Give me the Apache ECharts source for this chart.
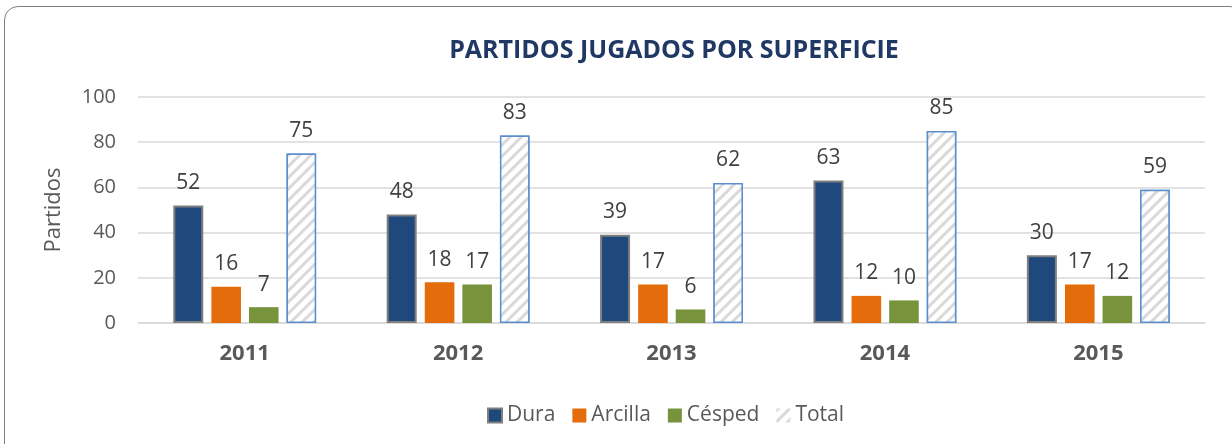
<!DOCTYPE html>
<html>
<head>
<meta charset="utf-8">
<script src="https://cdn.jsdelivr.net/npm/echarts@6/dist/echarts.min.js"></script>
<style>
  html, body { margin: 0; padding: 0; width: 1232px; height: 444px; overflow: hidden; background: #fff; }
  #frame { position: absolute; left: 4px; top: 6px; width: 1240px; height: 460px; box-sizing: border-box;
           border: 1.5px solid #808080; border-radius: 14px; }
  #main { position: absolute; left: 0; top: 0; width: 1232px; height: 444px; }
</style>
</head>
<body>
<div id="frame"></div>
<div id="main"></div>
<script>
var years = ['2011', '2012', '2013', '2014', '2015'];
var dura = [52, 48, 39, 63, 30];
var arcilla = [16, 18, 17, 12, 17];
var cesped = [7, 17, 6, 10, 12];
var total = [75, 83, 62, 85, 59];

var myChart = echarts.init(document.getElementById('main'));
var font = '"Open Sans", sans-serif';

var lbl = {
  show: true,
  position: 'top',
  distance: 12,
  fontSize: 21,
  color: '#404040',
  fontFamily: font
};

var hatch = {
  symbol: 'rect',
  symbolSize: 1,
  color: '#d9d9d9',
  backgroundColor: '#ffffff',
  dashArrayX: [1, 0],
  dashArrayY: [3, 5],
  rotation: -Math.PI / 4
};

myChart.setOption({
  animation: false,
  textStyle: { fontFamily: font },
  title: {
    text: 'PARTIDOS JUGADOS POR SUPERFICIE',
    left: 669,
    textAlign: 'center',
    top: 33,
    textStyle: { fontSize: 25, fontWeight: 'bold', color: '#1F3864', fontFamily: font }
  },
  legend: {
    left: 482,
    top: 400,
    icon: 'rect',
    itemWidth: 14,
    itemHeight: 14,
    itemGap: 17,
    textStyle: { fontSize: 21, color: '#595959', fontFamily: font },
    data: [
      'Dura', 'Arcilla', 'Césped',
      { name: 'Total', itemStyle: { borderWidth: 0 } }
    ]
  },
  grid: { left: 138, right: 27, top: 97, bottom: 121 },
  xAxis: {
    type: 'category',
    data: years,
    axisTick: { show: false },
    axisLine: { lineStyle: { color: '#d9d9d9', width: 1.5 } },
    axisLabel: { fontSize: 22, fontWeight: 'bold', color: '#595959', margin: 20, fontFamily: font }
  },
  yAxis: {
    type: 'value',
    min: 0,
    max: 100,
    interval: 20,
    name: 'Partidos',
    nameLocation: 'middle',
    nameGap: 73,
    nameTextStyle: { fontSize: 22, color: '#595959', fontFamily: font },
    axisLine: { show: false },
    axisTick: { show: false },
    axisLabel: { fontSize: 20, color: '#595959', margin: 22, fontFamily: font },
    splitLine: { lineStyle: { color: '#d9d9d9', width: 1.5 } }
  },
  series: [
    {
      name: 'Dura', type: 'bar', data: dura, barWidth: 30, barGap: '27%',
      itemStyle: { color: '#1F497D', borderColor: '#7f7f7f', borderWidth: 2 },
      label: lbl
    },
    {
      name: 'Arcilla', type: 'bar', data: arcilla,
      itemStyle: { color: '#E46C0A' },
      label: lbl
    },
    {
      name: 'Césped', type: 'bar', data: cesped,
      itemStyle: { color: '#77933C' },
      label: lbl
    },
    {
      name: 'Total', type: 'bar', data: total,
      itemStyle: { color: '#ffffff', borderColor: '#5B8FD0', borderWidth: 1.5, decal: hatch },
      label: lbl
    }
  ]
});
</script>
</body>
</html>
